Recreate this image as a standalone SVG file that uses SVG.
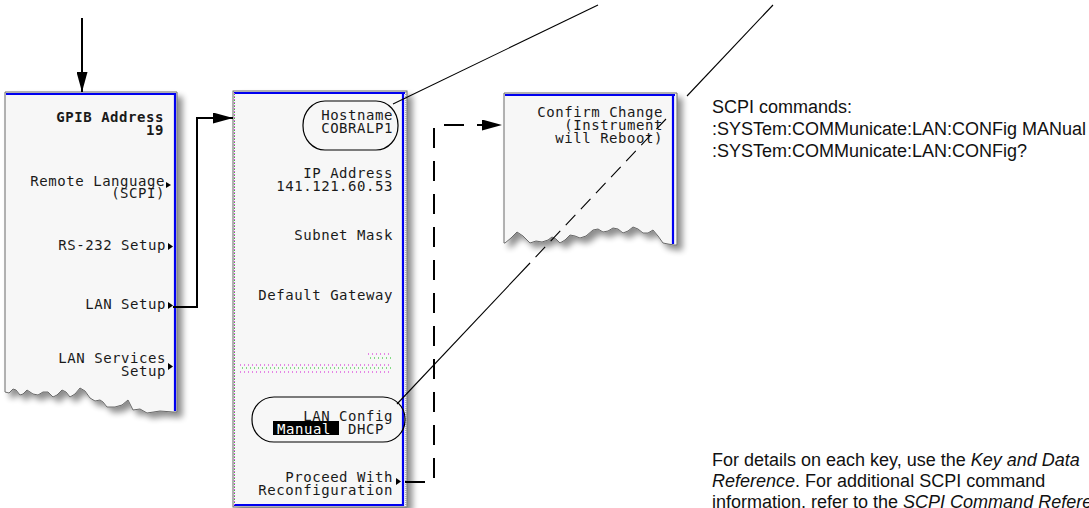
<svg xmlns="http://www.w3.org/2000/svg" width="1089" height="508" viewBox="0 0 1089 508">
  <defs>
    <filter id="shadow" x="-10%" y="-10%" width="130%" height="130%">
      <feOffset in="SourceAlpha" dx="5" dy="5" result="off"/>
      <feGaussianBlur in="off" stdDeviation="3" result="blur"/>
      <feComponentTransfer in="blur" result="soft">
        <feFuncA type="linear" slope="0.45"/>
      </feComponentTransfer>
      <feMerge>
        <feMergeNode in="soft"/>
        <feMergeNode in="SourceGraphic"/>
      </feMerge>
    </filter>
    <marker id="arrow" markerUnits="userSpaceOnUse" markerWidth="20" markerHeight="11" refX="20" refY="5.5" orient="auto">
      <path d="M0,0 L20,5.5 L0,11 Z" fill="#000"/>
    </marker>
  </defs>
  <style>
    .panel { fill: #f7f7f7; stroke: #6a6a6a; stroke-width: 1; }
    .blue { stroke: #0000f0; stroke-width: 2.2; fill: none; }
    .edge { stroke: #9a9a9a; stroke-width: 1.5; stroke-dasharray: 1 1; fill: none; }
    .key { font-family: "DejaVu Sans Mono", "Liberation Mono", monospace; font-size: 14px; letter-spacing: 0.55px; fill: #1a1a1a; }
    .r { text-anchor: end; }
    .bold { font-weight: bold; }
    .soft { fill: #000; }
    .oval { fill: none; stroke: #000; stroke-width: 1.2; }
    .conn { fill: none; stroke: #000; stroke-width: 2; }
    .dash { stroke-dasharray: 20 13; }
    .lead { fill: none; stroke: #000; stroke-width: 1.1; }
    .leaddash { stroke-dasharray: 14 8; }
    .note { font-family: "Liberation Sans", Arial, sans-serif; font-size: 18px; fill: #111; }
    .it { font-style: italic; }
    .ghostm { stroke: #e060e0; stroke-width: 1.5; stroke-dasharray: 1 3; fill: none; }
    .ghostg { stroke: #60d060; stroke-width: 1.5; stroke-dasharray: 1 3; fill: none; }
  </style>

  <!-- Front-panel menu: GPIB / remote setup -->
  <g id="menu-utility">
    <path class="panel" filter="url(#shadow)" d="M5,92 H177 V412 L173,412 L160,411 L147,413 L140,409 L133,410 L130,404 L128,400 L122,405 L115,407 L107,407 L103,402 L100,400 L95,401 L90,398 L85,391 L80,388 L75,394 L70,397 L66,392 L62,390 L57,395 L53,397 L48,392 L43,392 L38,395 L33,394 L27,390 L23,394 L20,395 L16,390 L13,389 L9,393 L5,392 Z"/>
    <line class="blue" x1="6" y1="94" x2="176" y2="94"/>
    <line class="blue" x1="175" y1="93" x2="175" y2="411"/>
    <text class="key r bold" x="164" y="122">GPIB Address</text>
    <text class="key r bold" x="164" y="135">19</text>
    <text class="key r" x="165" y="186">Remote Language</text>
    <text class="key r" x="165" y="198">(SCPI)</text>
    <path class="soft" d="M166,182 L171,185 L166,188 Z"/>
    <text class="key r" x="166" y="250">RS-232 Setup</text>
    <path class="soft" d="M168,243 L173,246.5 L168,250 Z"/>
    <text class="key r" x="166" y="309">LAN Setup</text>
    <path class="soft" d="M168,302 L173,305.5 L168,309 Z"/>
    <text class="key r" x="166" y="363">LAN Services</text>
    <text class="key r" x="166" y="376">Setup</text>
    <path class="soft" d="M168,363 L173,366.5 L168,370 Z"/>
  </g>

  <!-- LAN setup menu -->
  <g id="menu-lan-setup">
    <rect class="panel" filter="url(#shadow)" x="233" y="91" width="174" height="416"/>
    <line class="blue" x1="234" y1="93" x2="405" y2="93"/>
    <line class="blue" x1="403" y1="92" x2="403" y2="506"/>
    <line class="blue" x1="234" y1="505" x2="404" y2="505"/>
    <line class="edge" x1="406" y1="92" x2="406" y2="507"/>
    <line x1="234.5" y1="93" x2="234.5" y2="505" stroke="#e040e0" stroke-width="1" stroke-dasharray="1 2"/>
    <line x1="234.5" y1="94" x2="234.5" y2="505" stroke="#40c040" stroke-width="1" stroke-dasharray="1 2"/>
    <rect class="oval" x="303" y="101" width="95" height="49" rx="22" ry="24"/>
    <text class="key r" x="393" y="120">Hostname</text>
    <text class="key r" x="393" y="133">COBRALP1</text>
    <text class="key r" x="393" y="178">IP Address</text>
    <text class="key r" x="393" y="191">141.121.60.53</text>
    <text class="key r" x="393" y="240">Subnet Mask</text>
    <text class="key r" x="393" y="300">Default Gateway</text>
    <!-- greyed-out softkey label -->
    <line class="ghostm" x1="368" y1="354" x2="392" y2="354"/>
    <line class="ghostg" x1="370" y1="358" x2="392" y2="358"/>
    <line class="ghostm" x1="240" y1="365" x2="392" y2="365"/>
    <line class="ghostg" x1="242" y1="368" x2="392" y2="368"/>
    <line class="ghostm" x1="240" y1="372" x2="392" y2="372"/>
    <rect class="oval" x="252" y="397" width="153" height="45" rx="22" ry="22"/>
    <text class="key r" x="393" y="421">LAN Config</text>
    <rect x="273" y="421" width="66" height="14" fill="#000"/>
    <text class="key" x="277" y="434" fill="#fff" style="fill:#fff">Manual</text>
    <text class="key" x="348" y="434">DHCP</text>
    <text class="key r" x="393" y="482">Proceed With</text>
    <text class="key r" x="393" y="495">Reconfiguration</text>
    <path class="soft" d="M396,478 L401,481.5 L396,485 Z"/>
  </g>

  <!-- Confirmation softkey -->
  <g id="menu-confirm">
    <path class="panel" filter="url(#shadow)" d="M504,93 H677 V245 L674,245 L668,244 L663,243 L658,236 L653,230 L648,233 L643,233 L638,229 L633,227 L628,231 L623,233 L618,229 L613,228 L608,231 L603,232 L598,229 L593,230 L586,236 L580,238 L575,236 L570,235 L565,240 L560,243 L556,239 L552,237 L548,240 L542,242 L536,241 L530,243 L523,236 L517,232 L511,238 L505,243 L504,243 Z"/>
    <line class="blue" x1="505" y1="95" x2="675" y2="95"/>
    <line class="blue" x1="673" y1="94" x2="673" y2="244"/>
    <text class="key r" x="663" y="117">Confirm Change</text>
    <text class="key r" x="663" y="130">(Instrument</text>
    <text class="key r" x="663" y="143">will Reboot)</text>
  </g>

  <!-- Connectors and callout leaders -->
  <g id="connectors">
    <path class="conn" d="M82,18 V92" marker-end="url(#arrow)"/>
    <path class="conn" d="M173,307 H197 V118 H233" marker-end="url(#arrow)"/>
    <path class="conn dash" d="M405,482 H434 V125 H502" marker-end="url(#arrow)"/>
    <path class="lead" d="M393,104 L598,5"/>
    <path class="lead" d="M773,5 L687,96"/>
    <path class="lead leaddash" d="M666,119 L530,263"/>
    <path class="lead" d="M530,263 L397,404"/>
  </g>

  <!-- Notes -->
  <g id="notes">
    <text class="note" x="712" y="113">SCPI commands:</text>
    <text class="note" x="712" y="135">:SYSTem:COMMunicate:LAN:CONFig MANual</text>
    <text class="note" x="712" y="157">:SYSTem:COMMunicate:LAN:CONFig?</text>
    <text class="note" x="712" y="466">For details on each key, use the <tspan class="it">Key and Data</tspan></text>
    <text class="note" x="712" y="487"><tspan class="it">Reference</tspan>. For additional SCPI command</text>
    <text class="note" x="712" y="508">information, refer to the <tspan class="it">SCPI Command Reference</tspan>.</text>
  </g>
</svg>
